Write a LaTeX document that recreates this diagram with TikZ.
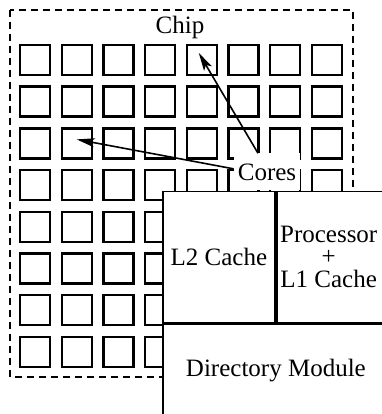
\documentclass[tikz,border=0pt]{standalone}
\usepackage{fontspec}
\setmainfont{Liberation Serif}
\usetikzlibrary{arrows.meta}

\begin{document}
\begin{tikzpicture}[
  x=1pt, y=-1pt,
  >={Stealth[length=18pt, width=9pt, inset=4pt]},
  every node/.style={font=\fontsize{25}{22.7}\selectfont},
  core/.style={draw, line width=2.4pt, minimum size=30pt, inner sep=0pt},
  cell/.style={draw, line width=1.8pt, fill=white, inner sep=0pt, align=center, anchor=north west},
]
\useasboundingbox (0,0) rectangle (381,414);

% Chip outline
\draw[line width=2.2pt, dash pattern=on 7pt off 5pt] (10,10) rectangle (353,377);
\node[anchor=base] (chip) at (180,34) {Chip};

% Grid of cores
\foreach \r in {0,...,7}
  \foreach \c in {0,...,7}
    \node[core] (c-\r-\c) at ({35+41.7*\c},{60+41.7*\r}) {};

% Cores label
\node[fill=white, inner xsep=4pt, inner ysep=10pt, anchor=base] (cores) at (267,180) {Cores};

% Arrows from label to cores
\draw[line width=1.6pt, ->] ([yshift=3pt]cores.west) -- ([yshift=4pt]c-2-1.center);
\draw[line width=1.6pt, ->] ([xshift=-9pt]cores.north) -- ([xshift=-3pt, yshift=7pt]c-0-4.center);

% Enlarged core
\node[cell, minimum width=112pt, minimum height=131pt] (l2) at (162,190.5) {L2 Cache};
\node[cell, minimum width=114pt, minimum height=131pt] (proc) at (l2.north east) {};
\node[align=center] (proctxt) at ([xshift=-5pt]proc.center) {Processor\\+\\L1 Cache};
\node[cell, minimum width=226pt, minimum height=92pt] (dir) at (l2.south west) {Directory Module};

\end{tikzpicture}
\end{document}
